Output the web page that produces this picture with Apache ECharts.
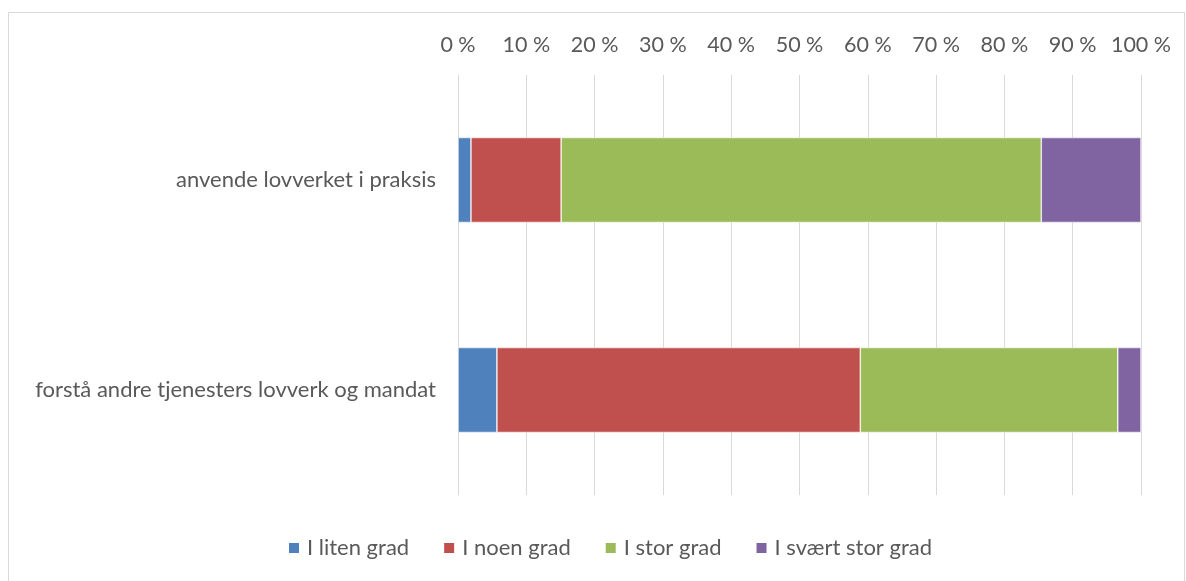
<!DOCTYPE html>
<html>
<head>
<meta charset="utf-8">
<script src="https://cdn.jsdelivr.net/npm/echarts@6/dist/echarts.min.js"></script>
<style>
html,body{margin:0;padding:0;background:#fff;}
#chart{width:1186px;height:581px;}
</style>
</head>
<body>
<div id="chart"></div>
<script>
const categories = ["anvende lovverket i praksis", "forstå andre tjenesters lovverk og mandat"];
const seriesNames = ["I liten grad", "I noen grad", "I stor grad", "I svært stor grad"];
const lite = [1.9, 5.7];
const noen = [13.2, 53.2];
const stor = [70.3, 37.7];
const svaert = [14.6, 3.4];
const colors = ["#4f81bd", "#c0504d", "#9bbb59", "#8064a2"];

const values = [lite, noen, stor, svaert];
const chart = echarts.init(document.getElementById('chart'));
const font = "Lato, 'Open Sans', sans-serif";
chart.setOption({
  animation: false,
  textStyle: {fontFamily: font},
  graphic: [{
    type: 'rect',
    shape: {x: 8.5, y: 12.5, width: 1176, height: 620},
    style: {fill: 'none', stroke: '#d9d9d9', lineWidth: 1},
    silent: true
  }],
  grid: {left: 458, right: 45, top: 75, bottom: 86},
  legend: {
    bottom: 17,
    left: 282,
    itemWidth: 12,
    itemHeight: 12,
    itemGap: 33,
    icon: 'rect',
    textStyle: {color: '#595959', fontSize: 22, fontFamily: font, padding: [0, 0, 0, 2]},
    data: seriesNames
  },
  xAxis: {
    type: 'value',
    position: 'top',
    min: 0, max: 100, interval: 10,
    axisLine: {show: false},
    axisTick: {show: false},
    splitLine: {lineStyle: {color: '#d9d9d9', width: 1}},
    axisLabel: {color: '#595959', fontSize: 21.5, margin: 19, formatter: v => v + ' %'}
  },
  yAxis: {
    type: 'category',
    inverse: true,
    data: categories,
    axisLine: {show: true, lineStyle: {color: '#d9d9d9', width: 1}},
    axisTick: {show: false},
    axisLabel: {color: '#595959', fontSize: 22, margin: 22}
  },
  series: seriesNames.map((n, i) => ({
    name: n,
    type: 'bar',
    stack: 'total',
    barWidth: 85,
    data: values[i],
    itemStyle: {color: colors[i], borderColor: '#ffffff', borderWidth: 0.6}
  }))
});
</script>
</body>
</html>
